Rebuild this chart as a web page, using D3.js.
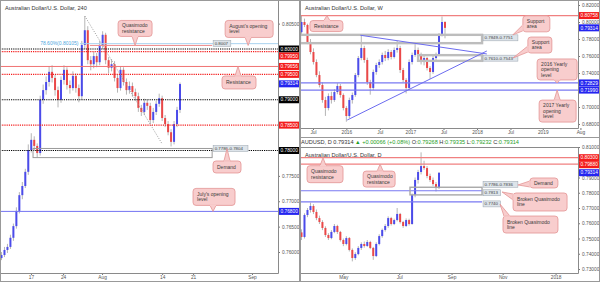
<!DOCTYPE html>
<html>
<head>
<meta charset="utf-8">
<script src="https://cdn.jsdelivr.net/npm/d3@7"></script>
<style>
  body { margin: 0; background: #fff; }
  text { font-family: 'Liberation Sans', Arial, sans-serif; }
</style>
</head>
<body>
<div class="container"></div>
<script>
// ---- 4h chart, candles are [open, high, low, close] ----
var h4Candles = [
  [0.7588,0.7600,0.7584,0.7594],[0.7594,0.7610,0.7590,0.7604],[0.7604,0.7616,0.7598,0.7610],
  [0.7610,0.7634,0.7606,0.7628],[0.7628,0.7656,0.7622,0.7651],[0.7651,0.7688,0.7646,0.7681],
  [0.7681,0.7718,0.7676,0.7712],[0.7712,0.7738,0.7704,0.7730],[0.7730,0.7764,0.7726,0.7758],
  [0.7758,0.7812,0.7752,0.7801],[0.7801,0.7834,0.7796,0.7821],[0.7821,0.7828,0.7800,0.7809],
  [0.7809,0.7814,0.7786,0.7795],[0.7795,0.7908,0.7790,0.7900],[0.7900,0.7930,0.7892,0.7919],
  [0.7919,0.7946,0.7910,0.7935],[0.7935,0.7966,0.7926,0.7955],[0.7955,0.7968,0.7934,0.7943],
  [0.7943,0.7950,0.7908,0.7919],[0.7919,0.7926,0.7885,0.7900],[0.7900,0.7946,0.7894,0.7939],
  [0.7939,0.7968,0.7930,0.7959],[0.7959,0.7964,0.7920,0.7929],[0.7929,0.7938,0.7912,0.7923],
  [0.7923,0.7956,0.7918,0.7947],[0.7947,0.7952,0.7914,0.7923],[0.7923,0.7930,0.7895,0.7907],
  [0.7907,0.8016,0.7900,0.8008],[0.8008,0.8065,0.8000,0.8037],[0.8037,0.8045,0.7970,0.7978],
  [0.7978,0.7986,0.7958,0.7970],[0.7970,0.7994,0.7962,0.7986],[0.7986,0.7992,0.7964,0.7974],
  [0.7974,0.8016,0.7968,0.8008],[0.8008,0.8035,0.8000,0.8028],[0.8028,0.8032,0.7970,0.7978],
  [0.7978,0.7984,0.7952,0.7963],[0.7963,0.7980,0.7956,0.7970],[0.7970,0.7976,0.7936,0.7943],
  [0.7943,0.7950,0.7914,0.7923],[0.7923,0.7966,0.7918,0.7959],[0.7959,0.7964,0.7928,0.7935],
  [0.7935,0.7942,0.7910,0.7919],[0.7919,0.7936,0.7912,0.7927],[0.7927,0.7934,0.7906,0.7915],
  [0.7915,0.7922,0.7898,0.7907],[0.7907,0.7914,0.7876,0.7884],[0.7884,0.7890,0.7868,0.7876],
  [0.7876,0.7902,0.7870,0.7894],[0.7894,0.7900,0.7880,0.7888],[0.7888,0.7894,0.7852,0.7860],
  [0.7860,0.7884,0.7854,0.7876],[0.7876,0.7898,0.7870,0.7892],[0.7892,0.7912,0.7886,0.7903],
  [0.7903,0.7908,0.7858,0.7864],[0.7864,0.7870,0.7846,0.7852],[0.7852,0.7858,0.7830,0.7836],
  [0.7836,0.7842,0.7808,0.7817],[0.7817,0.7858,0.7812,0.7852],[0.7852,0.7886,0.7846,0.7880],
  [0.7880,0.7934,0.7874,0.7931]
];
var h4DateLabels = ['17', '24', 'Aug', '14', '21', 'Sep'];
var h4DateBars = [9.9, 20.7, 33.8, 54, 64.4, 84.2];
var h4PriceTicks = [0.805, 0.775, 0.77, 0.765, 0.76];
var h4BlackLevels = [0.80, 0.79, 0.78];
var h4RedDotLevels = [0.7995, 0.795, 0.785];
var h4RedLevels = [0.79656];
var h4BlueLevels = [0.768];
var h4FibLevel = 0.80105;
var h4QmLevel = 0.8007;
var h4Demand = [0.7786, 0.7804];
var h4DemandBars = [10.6, 70.8];
var h4FibLine = [[28, 0.8065], [54, 0.7813]];
var h4Notes = ['Quasimodo\nresistance', "August's opening\nlevel", 'Resistance', 'Demand', "July's opening\nlevel"];
var h4NoteTips = [[44.9, 0.8007], [82.9, 0.8007], [79.5, 0.79656], [75.8, 0.7804], [71.1, 0.768]];

// ---- weekly chart ----
var wCandles = [
  [0.7880,0.8075,0.7860,0.8000],[0.8000,0.8040,0.7940,0.7965],[0.7965,0.7980,0.7740,0.7765],
  [0.7765,0.7800,0.7620,0.7647],[0.7647,0.7690,0.7500,0.7529],[0.7529,0.7560,0.7350,0.7376],
  [0.7376,0.7420,0.7230,0.7259],[0.7259,0.7290,0.7050,0.7082],[0.7082,0.7120,0.6895,0.6988],
  [0.6988,0.7160,0.6960,0.7129],[0.7129,0.7180,0.7040,0.7082],[0.7082,0.7210,0.7060,0.7176],
  [0.7176,0.7280,0.7150,0.7247],[0.7247,0.7270,0.7110,0.7141],[0.7141,0.7160,0.6960,0.6988],
  [0.6988,0.7010,0.6827,0.6894],[0.6894,0.7110,0.6870,0.7082],[0.7082,0.7170,0.7040,0.7141],
  [0.7141,0.7400,0.7120,0.7376],[0.7376,0.7600,0.7350,0.7576],[0.7576,0.7835,0.7550,0.7694],
  [0.7694,0.7720,0.7520,0.7553],[0.7553,0.7580,0.7260,0.7294],[0.7294,0.7320,0.7145,0.7224],
  [0.7224,0.7440,0.7200,0.7412],[0.7412,0.7520,0.7380,0.7494],[0.7494,0.7560,0.7460,0.7529],
  [0.7529,0.7640,0.7500,0.7612],[0.7612,0.7660,0.7540,0.7576],[0.7576,0.7680,0.7550,0.7647],
  [0.7647,0.7670,0.7560,0.7588],[0.7588,0.7700,0.7570,0.7671],[0.7671,0.7777,0.7640,0.7694],
  [0.7694,0.7720,0.7400,0.7435],[0.7435,0.7460,0.7290,0.7318],[0.7318,0.7340,0.7160,0.7224],
  [0.7224,0.7560,0.7200,0.7529],[0.7529,0.7640,0.7500,0.7612],[0.7612,0.7750,0.7590,0.7671],
  [0.7671,0.7700,0.7580,0.7612],[0.7612,0.7640,0.7500,0.7529],[0.7529,0.7610,0.7490,0.7576],
  [0.7576,0.7590,0.7430,0.7459],[0.7459,0.7480,0.7330,0.7412],[0.7412,0.7600,0.7390,0.7576],
  [0.7576,0.7640,0.7540,0.7612],[0.7612,0.7870,0.7600,0.7847],[0.7847,0.8065,0.7830,0.8000],
  [0.8000,0.8010,0.7808,0.7931]
];
var wDateLabels = ['Jul', '2016', 'Jul', '2017', 'Jul', '2018', 'Jul', '2019', 'Aug'];
var wDateBars = [3.85, 15, 26.2, 36.4, 47.5, 58.7, 69.9, 80.7, 93.3];
var wPriceTicks = [0.82, 0.80, 0.78, 0.76, 0.74, 0.70, 0.68];
var wRedLevels = [0.80758];
var wBlueLevels = [0.72829, 0.7199];
var wZones = [[0.7751, 0.7849], [0.7543, 0.7610]];
var wZoneBars = [[-1, 60.4], [39, 60.4]];
var wZoneLabels = ['0.7849-0.7751', '0.7610-0.7543'];
var wTrendDown = [[19.7, 0.7844], [62, 0.7624]];
var wTrendUp = [[15.3, 0.6847], [62, 0.7659]];
var wNotes = ['Resistance', 'Support\narea', 'Support\narea', '2016 Yearly\nopening\nlevel', '2017 Yearly\nopening\nlevel'];
var wNoteTips = [[8.5, 0.80758], [70.7, 0.7849], [70.7, 0.7576], [85.5, 0.72829], [85.5, 0.7199]];

// ---- daily chart ----
var dCandles = [
  [0.7540,0.7560,0.7490,0.7510],[0.7510,0.7665,0.7500,0.7654],[0.7654,0.7700,0.7640,0.7687],
  [0.7687,0.7735,0.7670,0.7713],[0.7713,0.7725,0.7660,0.7674],[0.7674,0.7690,0.7620,0.7634],
  [0.7634,0.7650,0.7595,0.7608],[0.7608,0.7620,0.7555,0.7569],[0.7569,0.7580,0.7510,0.7523],
  [0.7523,0.7535,0.7490,0.7503],[0.7503,0.7555,0.7495,0.7543],[0.7543,0.7595,0.7535,0.7582],
  [0.7582,0.7590,0.7530,0.7543],[0.7543,0.7550,0.7480,0.7490],[0.7490,0.7500,0.7450,0.7464],
  [0.7464,0.7515,0.7455,0.7503],[0.7503,0.7510,0.7415,0.7425],[0.7425,0.7435,0.7350,0.7372],
  [0.7372,0.7410,0.7360,0.7398],[0.7398,0.7450,0.7390,0.7438],[0.7438,0.7475,0.7425,0.7464],
  [0.7464,0.7480,0.7440,0.7451],[0.7451,0.7490,0.7445,0.7477],[0.7477,0.7485,0.7430,0.7438],
  [0.7438,0.7445,0.7360,0.7385],[0.7385,0.7475,0.7378,0.7464],[0.7464,0.7528,0.7455,0.7516],
  [0.7516,0.7565,0.7505,0.7556],[0.7556,0.7595,0.7545,0.7582],[0.7582,0.7645,0.7570,0.7634],
  [0.7634,0.7642,0.7585,0.7595],[0.7595,0.7630,0.7588,0.7621],[0.7621,0.7700,0.7612,0.7661],
  [0.7661,0.7668,0.7598,0.7608],[0.7608,0.7615,0.7570,0.7582],[0.7582,0.7632,0.7575,0.7621],
  [0.7621,0.7630,0.7585,0.7595],[0.7595,0.7795,0.7590,0.7785],[0.7785,0.7900,0.7770,0.7884],
  [0.7884,0.7950,0.7860,0.7936],[0.7936,0.8065,0.7920,0.7975],[0.7975,0.8010,0.7950,0.7962],
  [0.7962,0.7975,0.7895,0.7910],[0.7910,0.7925,0.7870,0.7884],[0.7884,0.7900,0.7845,0.7857],
  [0.7857,0.7870,0.7808,0.7831],[0.7831,0.7935,0.7825,0.7931]
];
var dDateLabels = ['May', 'Jul', 'Sep', 'Nov', '2018'];
var dDateBars = [14, 32.7, 50.2, 67.3, 85];
var dPriceTicks = [0.81, 0.79, 0.78, 0.77, 0.76, 0.75, 0.74, 0.73];
var dRedLevels = [0.803, 0.7988];
var dBlueLevels = [0.7813, 0.774];
var dLineEnd = 60.4;
var dDemand = [0.7786, 0.7836];
var dDemandBars = [36.3, 60.4];
var dNotes = ['Quasimodo\nresistance', 'Quasimodo\nresistance', 'Demand', 'Broken Quasimodo\nline', 'Broken Quasimodo\nline'];
var dNoteTips = [[7.2, 0.803], [26.3, 0.7988], [72.4, 0.7851], [67.1, 0.7805], [66.4, 0.7726]];
var dStatus = [['AUDUSD, D  0.79314 ', 0], ['\u25B2 +0.00066 (+0.08%) ', 1], ['O:', 0], ['0.79268 ', 1],
  ['H:', 0], ['0.79335 ', 1], ['L:', 0], ['0.79232 ', 1], ['C:', 0], ['0.79314', 1]];
var lastPrice = 0.79314;

var loadChart = function () {
    const WIDTH = 600;
    const HEIGHT = 282;
    const RED = '#f41c1c', BLUE = '#2424f0', BLACK = '#000';
    const fmt = d3.format('.5f');

    var svg = d3.select('.container').append('svg')
        .attr('width', WIDTH)
        .attr('height', HEIGHT)
        .style('display', 'block');
    svg.append('rect').attr('width', WIDTH).attr('height', HEIGHT).attr('fill', '#fff');
    var defs = svg.append('defs');

    var makePanel = function (id, box, xDom, xRange, yDom, yRange) {
        defs.append('clipPath').attr('id', id).append('rect')
            .attr('x', box.left).attr('y', box.top)
            .attr('width', box.right - box.left).attr('height', box.bottom - box.top);
        var p = Object.assign({}, box);
        p.x = d3.scaleLinear().domain(xDom).range(xRange);
        p.y = d3.scaleLinear().domain(yDom).range(yRange);
        p.g = svg.append('g').attr('clip-path', 'url(#' + id + ')');
        p.top_g = svg.append('g');
        return p;
    };

    var h4 = makePanel('c1', {left: 0, top: 0, right: 278, bottom: 273}, [0, 60], [1.5, 180], [0.76, 0.80], [252, 49]);
    var wk = makePanel('c2', {left: 300, top: 0, right: 578, bottom: 128}, [0, 48], [301.5, 445], [0.68, 0.82], [124, 5]);
    var dy = makePanel('c3', {left: 300, top: 147, right: 578, bottom: 273}, [0, 46], [301.5, 439], [0.73, 0.81], [269, 147]);

    var hline = function (p, v, x1, x2, color, dash, w) {
        p.g.append('line')
            .attr('x1', x1).attr('x2', x2)
            .attr('y1', p.y(v)).attr('y2', p.y(v))
            .attr('stroke', color).attr('stroke-width', w || 1)
            .attr('stroke-dasharray', dash || null);
    };

    var segment = function (p, pts, color, dash) {
        var line = d3.line().x(function (d) { return p.x(d[0]); }).y(function (d) { return p.y(d[1]); });
        p.g.append('path').attr('d', line(pts)).attr('fill', 'none')
            .attr('stroke', color).attr('stroke-width', 1).attr('stroke-dasharray', dash || null);
    };

    var zone = function (p, lohi, bars, color, w) {
        var x1 = Math.max(p.left, p.x(bars[0]));
        p.g.append('rect')
            .attr('x', x1).attr('y', p.y(lohi[1]))
            .attr('width', p.x(bars[1]) - x1).attr('height', p.y(lohi[0]) - p.y(lohi[1]))
            .attr('fill', 'none').attr('stroke', color).attr('stroke-width', w);
    };

    var candles = function (p, data) {
        p.g.append('g').selectAll('line').data(data).enter().append('line')
            .attr('x1', function (d, i) { return p.x(i); })
            .attr('x2', function (d, i) { return p.x(i); })
            .attr('y1', function (d) { return p.y(d[1]); })
            .attr('y2', function (d) { return p.y(d[2]); })
            .attr('stroke', '#b5b5b5').attr('stroke-width', 1);
        p.g.append('g').selectAll('rect').data(data).enter().append('rect')
            .attr('x', function (d, i) { return p.x(i) - 1; })
            .attr('width', 2)
            .attr('y', function (d) { return p.y(Math.max(d[0], d[3])); })
            .attr('height', function (d) { return Math.max(1, Math.abs(p.y(d[0]) - p.y(d[3]))); })
            .attr('fill', function (d) { return d[3] >= d[0] ? '#4b4bea' : '#ea4848'; });
    };

    var tag = function (p, x, cy, text) {
        var w = text.length * 2.45 + 3;
        p.top_g.append('rect').attr('x', x).attr('y', cy - 3).attr('width', w).attr('height', 6)
            .attr('fill', '#dde4ea').attr('stroke', '#9aa4ae').attr('stroke-width', 0.5);
        p.top_g.append('text').attr('x', x + 1.5).attr('y', cy).attr('dy', '0.35em')
            .attr('font-size', 4.4).attr('fill', '#444').text(text);
    };

    var note = function (p, tip, b, text) {
        var tx = p.x(tip[0]), ty = p.y(tip[1]);
        var bx = tx + b[0], by = ty + b[1], bw = b[2], bh = b[3];
        var ox = tx < bx ? bx - tx : (tx > bx + bw ? tx - bx - bw : 0);
        var oy = ty < by ? by - ty : (ty > by + bh ? ty - by - bh : 0);
        var p1, p2;
        if (oy >= ox) {
            var ex = Math.max(bx + 4, Math.min(bx + bw - 4, tx));
            var ey = ty < by ? by : by + bh;
            p1 = [ex - 3, ey]; p2 = [ex + 3, ey];
        } else {
            var ey2 = Math.max(by + 4, Math.min(by + bh - 4, ty));
            var ex2 = tx < bx ? bx : bx + bw;
            p1 = [ex2, ey2 - 3]; p2 = [ex2, ey2 + 3];
        }
        var g = p.top_g.append('g');
        g.append('path').attr('d', 'M' + p1 + 'L' + tx + ',' + ty + 'L' + p2 + 'Z')
            .attr('fill', '#f8cdcd').attr('stroke', '#e39494').attr('stroke-width', 0.8);
        g.append('rect').attr('x', bx).attr('y', by).attr('width', bw).attr('height', bh).attr('rx', 3)
            .attr('fill', '#f8cdcd').attr('stroke', '#e39494').attr('stroke-width', 0.8);
        g.append('line').attr('x1', p1[0]).attr('y1', p1[1]).attr('x2', p2[0]).attr('y2', p2[1])
            .attr('stroke', '#f8cdcd').attr('stroke-width', 1.4);
        var lines = text.split('\n');
        var t = g.append('text').attr('font-size', 5).attr('fill', '#3a3a3a');
        lines.forEach(function (s, i) {
            t.append('tspan').attr('x', bx + 4)
                .attr('y', by + bh / 2 + (i - (lines.length - 1) / 2) * 5.4)
                .attr('dy', '0.35em').text(s);
        });
    };

    var axes = function (p, priceTicks, dateBars, dateLabels) {
        var ya = p.top_g.append('g').attr('transform', 'translate(' + p.right + ',0)')
            .call(d3.axisRight(p.y).tickValues(priceTicks).tickSize(2).tickPadding(2).tickFormat(fmt));
        var xa = p.top_g.append('g').attr('transform', 'translate(0,' + p.bottom + ')')
            .call(d3.axisBottom(p.x).tickValues(dateBars).tickSize(2).tickPadding(0.5)
                .tickFormat(function (d, i) { return dateLabels[i]; }));
        [ya, xa].forEach(function (a) {
            a.select('.domain').remove();
            a.selectAll('line').attr('stroke', '#777');
            a.selectAll('text').attr('font-size', 4.8).attr('fill', '#555')
                .attr('font-family', "'Liberation Sans', Arial, sans-serif");
        });
        // plot frame
        p.top_g.append('path')
            .attr('d', 'M' + (p.left + 0.5) + ',' + (p.top + 0.5) + 'H' + (p.right + 0.5) + 'V' + (p.bottom + 0.5) + 'H' + (p.left + 0.5) + 'Z')
            .attr('fill', 'none').attr('stroke', '#8a8a8a').attr('stroke-width', 1);
    };

    var priceBoxes = function (p, items) {
        items.sort(function (a, b) { return p.y(a.v) - p.y(b.v); });
        var prev = -100;
        items.forEach(function (it) {
            var cy = Math.max(p.y(it.v), prev + 7);
            prev = cy;
            p.top_g.append('rect').attr('x', p.right + 1).attr('y', cy - 3.5)
                .attr('width', 21).attr('height', 7).attr('fill', it.c);
            p.top_g.append('text').attr('x', p.right + 2.5).attr('y', cy).attr('dy', '0.35em')
                .attr('font-size', 4.8).attr('fill', '#fff').text(fmt(it.v));
        });
    };

    var title = function (p, text) {
        p.top_g.append('text').attr('x', p.left + 5).attr('y', p.top + 8).attr('dy', '0.35em')
            .attr('font-size', 5.6).attr('fill', '#333').text(text);
    };

    // ---------- 4h panel ----------
    candles(h4, h4Candles);
    segment(h4, h4FibLine, '#9a9a9a', '1,1.5');
    hline(h4, h4FibLevel, h4.x(26.4), h4.right, '#a9d2ef', null, 1);
    hline(h4, h4QmLevel, h4.x(29.7), h4.x(h4DemandBars[1]), '#f08c8c', null, 1);
    h4BlackLevels.forEach(function (v) { hline(h4, v, h4.left, h4.right, BLACK, '1.2,1', 1.2); });
    h4RedDotLevels.forEach(function (v) { hline(h4, v, h4.left, h4.right, RED, '1.2,1', 1.2); });
    h4RedLevels.forEach(function (v) { hline(h4, v, h4.left, h4.right, '#f07272', null, 1); });
    h4BlueLevels.forEach(function (v) { hline(h4, v, h4.left, h4.right, '#7474f2', null, 1); });
    zone(h4, h4Demand, h4DemandBars, '#9a9a9a', 1);
    h4.top_g.append('text').attr('x', h4.x(26.4) - 1.5).attr('y', h4.y(h4FibLevel)).attr('dy', '0.35em')
        .attr('text-anchor', 'end').attr('font-size', 5).attr('fill', '#4ea6de').text('78.60%(0.80105)');
    tag(h4, h4.x(h4DemandBars[1]) + 1, h4.y(h4QmLevel) - 2, '0.8007');
    tag(h4, h4.x(h4DemandBars[1]) + 1, h4.y(h4Demand[1]), '0.7786-0.7804');
    var h4Boxes = [[-17, -25, 34, 16], [-23, -25, 48, 17], [-16, 9.5, 34, 13], [-14, 12.5, 28, 12], [-20, -23, 42, 17]];
    h4Notes.forEach(function (t, i) { note(h4, h4NoteTips[i], h4Boxes[i], t); });
    axes(h4, h4PriceTicks, h4DateBars, h4DateLabels);
    priceBoxes(h4, []
        .concat(h4BlackLevels.map(function (v) { return {v: v, c: BLACK}; }))
        .concat(h4RedDotLevels.concat(h4RedLevels).map(function (v) { return {v: v, c: RED}; }))
        .concat(h4BlueLevels.concat([lastPrice]).map(function (v) { return {v: v, c: BLUE}; })));
    title(h4, 'Australian Dollar/U.S. Dollar, 240');

    // ---------- weekly panel ----------
    candles(wk, wCandles);
    wRedLevels.forEach(function (v) { hline(wk, v, wk.left, wk.right, '#f08080', null, 1.2); });
    wBlueLevels.forEach(function (v) { hline(wk, v, wk.left, wk.right, '#7878f2', null, 1.2); });
    wZones.forEach(function (z, i) { zone(wk, z, wZoneBars[i], '#bdbdbd', 2.4); });
    segment(wk, wTrendDown, '#6c6cf0');
    segment(wk, wTrendUp, '#6c6cf0');
    wZoneLabels.forEach(function (t, i) { tag(wk, wk.x(wZoneBars[i][1]) + 1, wk.y(wZones[i][1]) + 3, t); });
    var wBoxes = [[-17, 5, 33, 11], [10, -19, 27, 16], [15, -21, 24, 16], [-20, -24, 40, 21], [-18, 10, 37, 22]];
    wNotes.forEach(function (t, i) { note(wk, wNoteTips[i], wBoxes[i], t); });
    axes(wk, wPriceTicks, wDateBars, wDateLabels);
    priceBoxes(wk, []
        .concat(wRedLevels.map(function (v) { return {v: v, c: RED}; }))
        .concat([lastPrice].concat(wBlueLevels).map(function (v) { return {v: v, c: BLUE}; })));
    title(wk, 'Australian Dollar/U.S. Dollar, W');

    // ---------- daily panel ----------
    candles(dy, dCandles);
    dRedLevels.forEach(function (v) { hline(dy, v, dy.left, dy.right, '#f08080', null, 1.2); });
    dBlueLevels.forEach(function (v) { hline(dy, v, dy.left, dy.x(dLineEnd), '#7878f2', null, 1.2); });
    zone(dy, dDemand, dDemandBars, '#a8a8a8', 1.4);
    tag(dy, dy.x(dLineEnd) + 1, dy.y(dDemand[1]) - 3, '0.7786-0.7836');
    dBlueLevels.forEach(function (v) { tag(dy, dy.x(dLineEnd) + 1, dy.y(v) + 2, fmt(v).slice(0, 6)); });
    var dBoxes = [[-16, 8, 36, 17], [-17, 7, 32, 16], [12, -7, 28, 10], [11, 1, 54, 18], [3, 12, 55, 17]];
    dNotes.forEach(function (t, i) { note(dy, dNoteTips[i], dBoxes[i], t); });
    axes(dy, dPriceTicks, dDateBars, dDateLabels);
    priceBoxes(dy, []
        .concat(dRedLevels.map(function (v) { return {v: v, c: RED}; }))
        .concat([lastPrice].map(function (v) { return {v: v, c: BLUE}; })));
    title(dy, 'Australian Dollar/U.S. Dollar, D');

    // status line above the daily chart
    var st = svg.append('text').attr('x', 301).attr('y', 142).attr('dy', '0.35em').attr('font-size', 5.6);
    dStatus.forEach(function (s) {
        st.append('tspan').attr('fill', s[1] ? '#1f9e1f' : '#333').text(s[0]);
    });

    // panel borders
    svg.append('rect').attr('x', 0.5).attr('y', 0.5).attr('width', 299).attr('height', 281)
        .attr('fill', 'none').attr('stroke', '#999');
    svg.append('rect').attr('x', 300.5).attr('y', 0.5).attr('width', 299).attr('height', 137)
        .attr('fill', 'none').attr('stroke', '#999');
    svg.append('rect').attr('x', 300.5).attr('y', 137.5).attr('width', 299).attr('height', 144)
        .attr('fill', 'none').attr('stroke', '#999');
};

window.onload = loadChart();
</script>
</body>
</html>
